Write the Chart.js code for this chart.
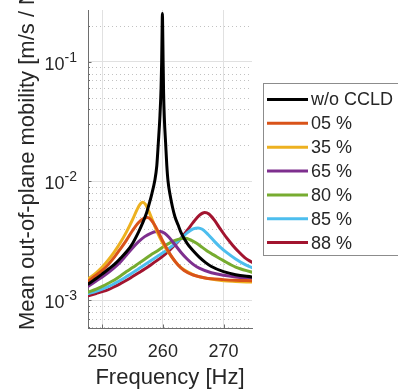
<!DOCTYPE html>
<html>
<head>
<meta charset="utf-8">
<script src="https://cdn.jsdelivr.net/npm/chart.js@4.4.1/dist/chart.umd.min.js"></script>
<style>
  html, body { margin: 0; padding: 0; background: #fff; }
  canvas { display: block; }
</style>
</head>
<body>
<canvas id="chart" width="398" height="392"></canvas>
<script>
// Series labels and colours (MATLAB default order)
const seriesLabels = ['w/o CCLD', '05 %', '35 %', '65 %', '80 %', '85 %', '88 %'];
const seriesColors = ['#000000', '#D95319', '#EDB120', '#7E2F8E', '#77AC30', '#4DBEEE', '#A2142F'];

// Frequency [Hz] / mobility [m/s / N]
const blackHz = [247.7, 249, 250, 251, 252, 253, 254, 255, 256, 256.7, 257.3, 257.8, 258.2, 258.65, 259.0, 259.25, 259.5, 259.7, 259.8, 259.87, 259.92, 259.97, 260.03, 260.12, 260.25, 260.45, 260.65, 260.85, 261.2, 261.6, 262, 262.5, 263, 264, 265, 266, 267, 268, 270, 272, 274.7];
const blackVal = [1.37e-3, 1.52e-3, 1.66e-3, 1.82e-3, 2.0e-3, 2.25e-3, 2.55e-3, 3.0e-3, 3.75e-3, 4.5e-3, 5.4e-3, 6.6e-3, 7.9e-3, 1.0e-2, 1.35e-2, 2.1e-2, 3.4e-2, 6.0e-2, 0.1, 0.18, 0.255, 0.19, 0.11, 0.055, 0.033, 0.021, 0.0135, 0.0100, 7.6e-3, 6.0e-3, 5.0e-3, 4.3e-3, 3.7e-3, 3.0e-3, 2.6e-3, 2.3e-3, 2.08e-3, 1.92e-3, 1.74e-3, 1.64e-3, 1.57e-3];

const orangeHz = [247.7, 249, 250, 251, 252, 253, 254, 255, 256, 256.8, 257.5, 258.1, 258.8, 259.7, 260.5, 261.5, 262.5, 263.5, 265, 267, 270, 272, 274.7];
const orangeVal = [1.45e-3, 1.62e-3, 1.78e-3, 2.0e-3, 2.3e-3, 2.7e-3, 3.2e-3, 3.85e-3, 4.5e-3, 4.85e-3, 4.95e-3, 4.7e-3, 4.15e-3, 3.35e-3, 2.8e-3, 2.3e-3, 1.98e-3, 1.78e-3, 1.63e-3, 1.54e-3, 1.49e-3, 1.47e-3, 1.46e-3];

const yellowHz = [247.7, 249, 250, 251, 252, 253, 254, 255, 255.8, 256.3, 256.7, 257.1, 257.6, 258.2, 259, 260, 261, 262, 263, 264, 265.5, 267.5, 270, 272, 274.7];
const yellowVal = [1.51e-3, 1.7e-3, 1.9e-3, 2.18e-3, 2.55e-3, 3.05e-3, 3.75e-3, 4.75e-3, 5.85e-3, 6.45e-3, 6.65e-3, 6.4e-3, 5.7e-3, 4.8e-3, 3.8e-3, 3.0e-3, 2.5e-3, 2.12e-3, 1.88e-3, 1.74e-3, 1.6e-3, 1.52e-3, 1.46e-3, 1.44e-3, 1.42e-3];

const purpleHz = [247.7, 249, 250, 251, 252, 253, 254, 255, 256, 257, 258, 259, 259.6, 260.3, 261, 262, 263, 264, 265, 266, 268, 270, 272, 274.7];
const purpleVal = [1.31e-3, 1.45e-3, 1.57e-3, 1.71e-3, 1.88e-3, 2.1e-3, 2.4e-3, 2.75e-3, 3.1e-3, 3.42e-3, 3.65e-3, 3.77e-3, 3.78e-3, 3.65e-3, 3.38e-3, 2.92e-3, 2.52e-3, 2.22e-3, 2.0e-3, 1.86e-3, 1.7e-3, 1.62e-3, 1.57e-3, 1.53e-3];

const greenHz = [247.7, 249, 250, 251, 252, 253, 254, 255, 256, 257, 258, 259, 260, 261, 262, 263, 263.7, 264.5, 265.5, 266.5, 267.5, 268.5, 270, 272, 274.7];
const greenVal = [1.17e-3, 1.24e-3, 1.31e-3, 1.39e-3, 1.48e-3, 1.6e-3, 1.74e-3, 1.88e-3, 2.04e-3, 2.21e-3, 2.4e-3, 2.58e-3, 2.8e-3, 3.0e-3, 3.18e-3, 3.29e-3, 3.31e-3, 3.22e-3, 3.02e-3, 2.78e-3, 2.55e-3, 2.38e-3, 2.15e-3, 1.9e-3, 1.72e-3];

const cyanHz = [247.7, 249, 250, 251, 252, 253, 254, 255, 256, 257, 258, 259, 260, 261, 262, 263, 264, 265, 265.8, 266.5, 267.5, 268.5, 269.5, 270.5, 272, 273.5, 274.7];
const cyanVal = [1.14e-3, 1.19e-3, 1.24e-3, 1.3e-3, 1.38e-3, 1.47e-3, 1.58e-3, 1.7e-3, 1.84e-3, 1.99e-3, 2.15e-3, 2.32e-3, 2.5e-3, 2.72e-3, 2.98e-3, 3.3e-3, 3.68e-3, 3.97e-3, 4.05e-3, 3.95e-3, 3.55e-3, 3.12e-3, 2.78e-3, 2.52e-3, 2.22e-3, 2.0e-3, 1.88e-3];

const redHz = [247.7, 249, 250, 251, 252, 253, 254, 255, 256, 257, 258, 259, 260, 261, 262, 263, 264, 265, 266, 266.9, 267.6, 268.5, 269.5, 270.5, 271.5, 272.5, 273.5, 274.7];
const redVal = [1.09e-3, 1.14e-3, 1.18e-3, 1.23e-3, 1.3e-3, 1.38e-3, 1.47e-3, 1.58e-3, 1.7e-3, 1.83e-3, 1.98e-3, 2.15e-3, 2.35e-3, 2.6e-3, 2.92e-3, 3.32e-3, 3.85e-3, 4.5e-3, 5.15e-3, 5.45e-3, 5.3e-3, 4.7e-3, 3.95e-3, 3.35e-3, 2.9e-3, 2.55e-3, 2.28e-3, 2.08e-3];

// Axis ticks
const xTicks = [250, 260, 270];
const yMajor = [1e-3, 1e-2, 1e-1];
const yMinor = [6e-4, 7e-4, 8e-4, 9e-4, 2e-3, 3e-3, 4e-3, 5e-3, 6e-3, 7e-3, 8e-3, 9e-3,
                2e-2, 3e-2, 4e-2, 5e-2, 6e-2, 7e-2, 8e-2, 9e-2, 2e-1];

const FONT = "'Liberation Sans', Arial, Helvetica, sans-serif";
const TEXT = '#262626';
const AXIS = '#6e6e6e';

const seriesHz = [blackHz, orangeHz, yellowHz, purpleHz, greenHz, cyanHz, redHz];
const seriesVal = [blackVal, orangeVal, yellowVal, purpleVal, greenVal, cyanVal, redVal];

// Minor grid, inward ticks, y labels, titles and boxed legend
const decor = {
    id: 'decor',
    beforeDatasetsDraw(chart) {
        const { ctx, chartArea: a, scales: { x, y } } = chart;
        ctx.save();
        ctx.lineWidth = 1;
        ctx.strokeStyle = '#c2c2c2';
        ctx.setLineDash([1, 3]);
        yMinor.forEach(v => {
            const py = Math.round(y.getPixelForValue(v)) + 0.5;
            if (py < a.top || py > a.bottom) return;
            ctx.beginPath();
            ctx.moveTo(a.left, py);
            ctx.lineTo(a.right, py);
            ctx.stroke();
        });
        ctx.setLineDash([]);
        ctx.strokeStyle = AXIS;
        // y ticks (inward)
        yMajor.concat(yMinor).forEach(v => {
            const py = Math.round(y.getPixelForValue(v)) + 0.5;
            if (py < a.top || py > a.bottom) return;
            const len = yMajor.includes(v) ? 3.5 : 2;
            ctx.beginPath();
            ctx.moveTo(a.left, py);
            ctx.lineTo(a.left + len, py);
            ctx.stroke();
        });
        // x ticks (inward)
        xTicks.forEach(v => {
            const px = Math.round(x.getPixelForValue(v)) + 0.5;
            ctx.beginPath();
            ctx.moveTo(px, a.bottom);
            ctx.lineTo(px, a.bottom - 3.5);
            ctx.stroke();
        });
        ctx.restore();
    },
    afterDraw(chart) {
        const { ctx, chartArea: a, scales: { y } } = chart;
        ctx.save();
        ctx.fillStyle = TEXT;

        // y tick labels as 10^n
        yMajor.forEach(v => {
            const py = y.getPixelForValue(v);
            const exp = String(Math.round(Math.log10(v)));
            const right = a.left - 11;
            ctx.font = '14px ' + FONT;
            const ew = ctx.measureText(exp).width;
            ctx.textAlign = 'left';
            ctx.textBaseline = 'middle';
            ctx.fillText(exp, right - ew, py - 4);
            ctx.font = '18px ' + FONT;
            ctx.textAlign = 'right';
            ctx.fillText('10', right - ew, py + 3);
        });

        // axis titles
        ctx.font = '22px ' + FONT;
        ctx.textAlign = 'center';
        ctx.textBaseline = 'middle';
        ctx.fillText('Frequency [Hz]', (a.left + a.right) / 2, 378);
        ctx.save();
        ctx.translate(27.5, 156.5);
        ctx.rotate(-Math.PI / 2);
        ctx.fillText('Mean out-of-plane mobility [m/s / N]', 0, 0);
        ctx.restore();

        // legend box
        ctx.strokeStyle = '#8c8c8c';
        ctx.lineWidth = 1;
        ctx.strokeRect(263.5, 83.5, 150, 172);
        ctx.font = '18px ' + FONT;
        ctx.textAlign = 'left';
        chart.data.datasets.forEach((ds, i) => {
            const ly = 99.5 + i * 23.85;
            ctx.strokeStyle = ds.borderColor;
            ctx.lineWidth = 3;
            ctx.beginPath();
            ctx.moveTo(267, ly);
            ctx.lineTo(308, ly);
            ctx.stroke();
            ctx.fillStyle = TEXT;
            ctx.fillText(ds.label, 311, ly + 1);
        });
        ctx.restore();
    }
};

const datasets = seriesLabels.map((label, i) => ({
    label: label,
    data: seriesHz[i].map((f, k) => ({ x: f, y: seriesVal[i][k] })),
    borderColor: seriesColors[i],
    backgroundColor: seriesColors[i],
    borderWidth: 3,
    borderJoinStyle: 'round',
    borderCapStyle: 'round',
    pointRadius: 0,
    cubicInterpolationMode: 'monotone',
    fill: false
}));

// draw black last-but-ordered like MATLAB: later series on top
new Chart(document.getElementById('chart'), {
    type: 'line',
    data: { datasets: datasets },
    options: {
        responsive: false,
        animation: false,
        events: [],
        layout: { padding: { left: 0, top: 10, right: 146, bottom: 0 } },
        plugins: {
            legend: { display: false },
            tooltip: { enabled: false }
        },
        scales: {
            x: {
                type: 'linear',
                min: 247.65,
                max: 274.7,
                afterBuildTicks: (scale) => { scale.ticks = xTicks.map(v => ({ value: v })); },
                afterFit: (scale) => { scale.height = 64; },
                grid: { color: '#e1e1e1', drawTicks: false },
                border: { display: true, color: AXIS, width: 1 },
                ticks: {
                    color: TEXT,
                    padding: 13,
                    maxRotation: 0,
                    font: { family: FONT, size: 18 }
                }
            },
            y: {
                type: 'logarithmic',
                min: 5.85e-4,
                max: 0.273,
                afterBuildTicks: (scale) => { scale.ticks = yMajor.map(v => ({ value: v })); },
                afterFit: (scale) => { scale.width = 88; },
                grid: { color: '#e1e1e1', drawTicks: false },
                border: { display: true, color: AXIS, width: 1 },
                ticks: { display: false }
            }
        }
    },
    plugins: [decor]
});
</script>
</body>
</html>
